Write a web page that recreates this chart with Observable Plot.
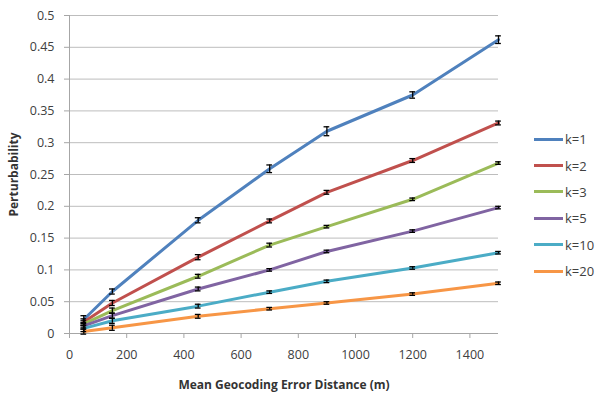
<!DOCTYPE html>
<html>
<head>
<meta charset="utf-8">
<script src="https://cdn.jsdelivr.net/npm/d3@7"></script>
<script src="https://cdn.jsdelivr.net/npm/@observablehq/plot@0.6"></script>
<style>
  html, body { margin: 0; padding: 0; background: #fff; }
  #wrap { position: relative; width: 600px; height: 401px; font-family: "Open Sans", sans-serif; }
  #legend { position: absolute; left: 534px; top: 126px; }
  .row { display: flex; align-items: center; height: 26.4px; font-size: 13px; color: #404040; }
  .sw { width: 29px; height: 3px; margin-right: 2px; }
</style>
</head>
<body>
<div id="wrap"><div id="legend"></div></div>
<script>
const xs = [50, 150, 450, 700, 900, 1200, 1500];
const seriesNames = ["k=1", "k=2", "k=3", "k=5", "k=10", "k=20"];
const colors = ["#4F81BD", "#C0504D", "#9BBB59", "#8064A2", "#4BACC6", "#F79646"];
const k1 = [0.022, 0.066, 0.178, 0.259, 0.318, 0.375, 0.462];
const k2 = [0.018, 0.048, 0.120, 0.177, 0.222, 0.272, 0.331];
const k3 = [0.015, 0.036, 0.090, 0.139, 0.168, 0.211, 0.268];
const k5 = [0.012, 0.028, 0.070, 0.100, 0.129, 0.161, 0.198];
const k10 = [0.008, 0.020, 0.043, 0.065, 0.082, 0.103, 0.127];
const k20 = [0.003, 0.009, 0.027, 0.039, 0.048, 0.062, 0.079];
const e1 = [0.006, 0.004, 0.004, 0.006, 0.007, 0.005, 0.006];
const e2 = [0.005, 0.004, 0.004, 0.003, 0.003, 0.003, 0.003];
const e3 = [0.005, 0.004, 0.003, 0.003, 0.002, 0.002, 0.002];
const e5 = [0.005, 0.004, 0.003, 0.002, 0.002, 0.002, 0.002];
const e10 = [0.005, 0.004, 0.003, 0.002, 0.002, 0.002, 0.002];
const e20 = [0.004, 0.004, 0.003, 0.002, 0.002, 0.002, 0.002];
const yTicks = [0, 0.05, 0.1, 0.15, 0.2, 0.25, 0.3, 0.35, 0.4, 0.45, 0.5];
const xTicks = [0, 200, 400, 600, 800, 1000, 1200, 1400];
const xTitle = "Mean Geocoding Error Distance (m)";
const yTitle = "Perturbability";

const values = [k1, k2, k3, k5, k10, k20];
const errors = [e1, e2, e3, e5, e10, e20];
const data = [];
seriesNames.forEach((s, i) => xs.forEach((x, j) => data.push({series: s, x, y: values[i][j], e: errors[i][j]})));

const capHalf = 10; // half-width of error-bar caps in x data units

const chart = Plot.plot({
  width: 600,
  height: 401,
  marginLeft: 69,
  marginRight: 102,
  marginTop: 15,
  marginBottom: 68,
  style: {fontFamily: "Open Sans, sans-serif", fontSize: "12.5px", color: "#404040", background: "white"},
  x: {domain: [0, 1500]},
  y: {domain: [0, 0.5]},
  color: {domain: seriesNames, range: colors},
  marks: [
    Plot.gridY(yTicks, {stroke: "#bdbdbd", strokeOpacity: 1}),
    Plot.ruleX([0], {stroke: "#a6a6a6"}),
    Plot.ruleY([0], {stroke: "#a6a6a6"}),
    Plot.axisY({ticks: yTicks, tickSize: 5, tickPadding: 10, stroke: "#a6a6a6", tickFormat: d => String(d),
      label: yTitle, labelAnchor: "center", labelArrow: "none", labelOffset: 60}),
    Plot.axisX({ticks: xTicks, tickSize: 5, tickPadding: 12, stroke: "#a6a6a6", tickFormat: d => String(d),
      label: xTitle, labelAnchor: "center", labelArrow: "none", labelOffset: 55}),
    Plot.line(data, {x: "x", y: "y", z: "series", stroke: "series", strokeWidth: 3, strokeLinejoin: "round"}),
    Plot.ruleX(data, {x: "x", y1: d => d.y - d.e, y2: d => d.y + d.e, stroke: "black", strokeWidth: 1.3}),
    Plot.ruleY(data, {y: d => d.y - d.e, x1: d => d.x - capHalf, x2: d => d.x + capHalf, stroke: "black", strokeWidth: 1.3}),
    Plot.ruleY(data, {y: d => d.y + d.e, x1: d => d.x - capHalf, x2: d => d.x + capHalf, stroke: "black", strokeWidth: 1.3})
  ]
});
// bold axis titles
chart.querySelectorAll("g[aria-label='y-axis label'] text, g[aria-label='x-axis label'] text").forEach(t => {
  t.setAttribute("font-weight", "bold");
  t.setAttribute("font-size", "12px");
  t.setAttribute("fill", "#333");
});
document.getElementById("wrap").prepend(chart);

const legend = document.getElementById("legend");
seriesNames.forEach((s, i) => {
  const row = document.createElement("div");
  row.className = "row";
  const sw = document.createElement("div");
  sw.className = "sw";
  sw.style.background = colors[i];
  const lab = document.createElement("span");
  lab.textContent = s;
  row.appendChild(sw);
  row.appendChild(lab);
  legend.appendChild(row);
});
</script>
</body>
</html>
